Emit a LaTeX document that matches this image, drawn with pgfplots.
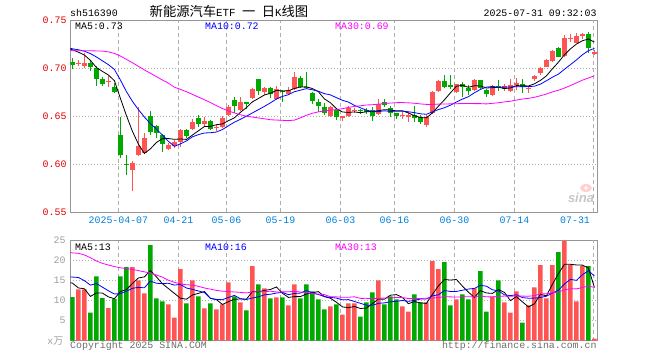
\documentclass[border=0pt]{standalone}
\usepackage{fontspec}
\setmainfont{Liberation Mono}
\newfontfamily\cjk{Noto Sans CJK SC}
\newfontfamily\sansf{Liberation Sans}
\usepackage{pgfplots}
\usepackage{pgfplotstable}
\pgfplotsset{compat=1.18}
\definecolor{cred}{RGB}{255,84,84}
\definecolor{cgreen}{RGB}{0,168,0}
\definecolor{tickred}{RGB}{225,0,0}
\definecolor{dateblue}{RGB}{0,128,220}
\definecolor{bordergray}{RGB}{150,150,150}
\definecolor{gridgray}{RGB}{175,175,175}
\definecolor{textgray}{RGB}{110,110,110}
\definecolor{volgray}{RGB}{160,160,160}
\definecolor{cmag}{RGB}{255,0,255}
\newcommand\mf{\fontsize{9.9}{11}\selectfont}

% red (up) candles: index, open, high, low, close, volume
\pgfplotstableread{
i O H L C V
1 0.7045 0.7083 0.7021 0.7050 12.75
2 0.7024 0.7153 0.6997 0.7050 12.75
6 0.6855 0.6917 0.6799 0.6860 8.1
10 0.5940 0.6035 0.5720 0.6010 18.25
11 0.6095 0.6590 0.6080 0.6190 15.0
12 0.6110 0.6320 0.6100 0.6270 11.75
16 0.6155 0.6215 0.6145 0.6195 9.0
17 0.6190 0.6245 0.6165 0.6230 5.75
18 0.6230 0.6360 0.6180 0.6350 17.75
20 0.6360 0.6470 0.6355 0.6435 15.0
22 0.6417 0.6493 0.6400 0.6448 8.0
24 0.6378 0.6420 0.6347 0.6382 7.75
25 0.6390 0.6503 0.6370 0.6475 9.0
26 0.6510 0.6610 0.6500 0.6590 14.5
28 0.6563 0.6695 0.6556 0.6643 9.5
30 0.6691 0.6790 0.6680 0.6780 18.5
32 0.6745 0.6806 0.6719 0.6788 13.0
34 0.6680 0.6810 0.6670 0.6780 10.75
36 0.6726 0.6799 0.6715 0.6770 8.75
37 0.6780 0.6955 0.6770 0.6910 14.0
43 0.6500 0.6600 0.6493 0.6597 8.5
45 0.6483 0.6500 0.6448 0.6487 6.5
46 0.6500 0.6606 0.6493 0.6580 9.25
47 0.6550 0.6580 0.6535 0.6565 9.25
51 0.6521 0.6674 0.6510 0.6622 15.0
55 0.6497 0.6545 0.6469 0.6501 8.5
56 0.6490 0.6545 0.6438 0.6510 7.25
59 0.6406 0.6510 0.6390 0.6486 9.5
60 0.6528 0.6760 0.6520 0.6753 19.75
61 0.6760 0.6875 0.6747 0.6865 17.75
64 0.6753 0.6833 0.6740 0.6833 10.25
67 0.6770 0.6890 0.6760 0.6880 13.0
70 0.6720 0.6823 0.6705 0.6813 11.0
72 0.6785 0.6830 0.6760 0.6810 9.5
73 0.6764 0.6885 0.6753 0.6823 7.0
74 0.6823 0.6896 0.6767 0.6847 12.25
76 0.6777 0.6802 0.6743 0.6780 8.75
77 0.6882 0.6927 0.6868 0.6917 13.25
78 0.6945 0.7014 0.6927 0.7003 18.75
79 0.7014 0.7090 0.7007 0.7083 10.5
80 0.7076 0.7188 0.7066 0.7177 18.75
82 0.7125 0.7344 0.7118 0.7309 24.8
83 0.7305 0.7354 0.7274 0.7310 18.75
84 0.7264 0.7361 0.7257 0.7333 9.75
85 0.7333 0.7365 0.7302 0.7351 18.5
87 0.7150 0.7188 0.7135 0.7153 0.5
}\upK

% green (down) candles
\pgfplotstableread{
i O H L C V
0 0.7066 0.7100 0.6990 0.7031 10.8
3 0.7056 0.7076 0.6972 0.7007 7.0
4 0.6997 0.7021 0.6813 0.6885 16.0
5 0.6885 0.6903 0.6813 0.6833 10.6
7 0.6799 0.6847 0.6736 0.6753 10.4
8 0.6300 0.6490 0.6060 0.6090 16.0
9 0.5995 0.6090 0.5885 0.5990 18.25
13 0.6500 0.6555 0.6300 0.6330 23.75
14 0.6395 0.6410 0.6270 0.6320 10.5
15 0.6300 0.6310 0.6130 0.6210 9.75
19 0.6350 0.6360 0.6275 0.6295 9.25
21 0.6475 0.6510 0.6390 0.6420 11.0
23 0.6448 0.6455 0.6350 0.6360 9.25
27 0.6667 0.6695 0.6530 0.6600 11.0
29 0.6643 0.6643 0.6573 0.6625 7.5
31 0.6885 0.6890 0.6720 0.6760 14.0
33 0.6790 0.6800 0.6690 0.6726 10.5
35 0.6757 0.6770 0.6650 0.6750 10.75
38 0.6900 0.6920 0.6790 0.6800 10.5
39 0.6805 0.6955 0.6780 0.6790 14.0
40 0.6736 0.6753 0.6622 0.6660 12.25
41 0.6650 0.6674 0.6545 0.6607 10.25
42 0.6594 0.6639 0.6510 0.6535 7.75
44 0.6563 0.6580 0.6458 0.6486 9.0
48 0.6556 0.6570 0.6525 0.6550 6.0
49 0.6560 0.6585 0.6520 0.6540 9.5
50 0.6563 0.6597 0.6448 0.6500 12.0
52 0.6643 0.6674 0.6597 0.6617 9.0
53 0.6580 0.6604 0.6493 0.6530 11.0
54 0.6528 0.6528 0.6466 0.6500 10.25
57 0.6510 0.6604 0.6434 0.6476 11.5
58 0.6486 0.6515 0.6420 0.6434 9.5
62 0.6865 0.6927 0.6790 0.6800 19.5
63 0.6823 0.6927 0.6780 0.6800 8.75
65 0.6833 0.6850 0.6700 0.6800 11.5
66 0.6788 0.6823 0.6719 0.6764 10.25
68 0.6880 0.6880 0.6780 0.6790 17.25
69 0.6770 0.6780 0.6700 0.6726 7.25
71 0.6816 0.6875 0.6764 0.6790 15.0
75 0.6833 0.6890 0.6743 0.6806 4.5
81 0.7205 0.7215 0.7110 0.7118 22.0
86 0.7354 0.7378 0.7153 0.7205 18.5
}\dnK

% moving averages: price MA5 MA10 MA30, volume MA5 MA10 MA30
\pgfplotstableread{
i m5 m10 m30 v5 v10 v30
-0.33 0.7198 0.7205 0.7185 14.4 15.8 21.9
0 0.7190 0.7200 0.7180 14.3 15.8 21.8
1 0.7165 0.7190 0.7180 13.1 15.7 21.7
2 0.7135 0.7175 0.7180 12.9 14.9 21.3
3 0.7080 0.7150 0.7179 11.0 13.8 20.6
4 0.7005 0.7115 0.7178 11.86 14.2 19.8
5 0.6965 0.7075 0.7176 11.82 13.3 19.2
6 0.6927 0.7035 0.7168 10.89 12.4 18.8
7 0.6868 0.6985 0.7152 10.42 11.6 18.4
8 0.6684 0.6875 0.7125 12.22 11.7 18.1
9 0.6505 0.6755 0.7090 12.67 12.27 17.9
10 0.6341 0.6653 0.7055 14.2 13.01 17.7
11 0.6207 0.6567 0.7018 15.58 13.24 17.4
12 0.6110 0.6489 0.6980 15.85 13.14 17.1
13 0.6158 0.6421 0.6945 17.4 14.81 16.8
14 0.6224 0.6365 0.6910 15.85 14.26 16.3
15 0.6264 0.6302 0.6875 14.15 14.18 15.8
16 0.6265 0.6236 0.6842 12.95 14.27 15.0
17 0.6257 0.6184 0.6800 11.75 13.8 14.5
18 0.6261 0.6210 0.6778 10.55 13.98 14.1
19 0.6256 0.6240 0.6753 10.3 13.08 13.9
20 0.6301 0.6283 0.6725 11.35 12.75 13.8
21 0.6346 0.6306 0.6697 11.75 12.35 13.5
22 0.6390 0.6323 0.6670 12.2 11.98 13.1
23 0.6392 0.6326 0.6640 10.5 10.53 12.8
24 0.6409 0.6333 0.6608 10.2 10.25 12.5
25 0.6417 0.6359 0.6578 9.0 10.18 12.3
26 0.6451 0.6398 0.6553 9.7 10.73 12.2
27 0.6481 0.6436 0.6532 10.3 11.25 12.1
28 0.6538 0.6465 0.6513 10.35 10.43 12.0
29 0.6587 0.6498 0.6498 10.3 10.25 11.86
30 0.6648 0.6532 0.6489 12.2 10.6 12.12
31 0.6682 0.6566 0.6480 12.1 10.9 12.16
32 0.6719 0.6600 0.6471 12.5 11.4 12.17
33 0.6736 0.6637 0.6461 12.7 11.53 12.29
34 0.6767 0.6677 0.6458 13.35 11.83 12.11
35 0.6761 0.6704 0.6455 11.8 12.0 12.12
36 0.6763 0.6722 0.6452 10.75 11.43 12.14
37 0.6787 0.6753 0.6457 10.95 11.73 12.26
38 0.6802 0.6769 0.6481 10.95 11.83 12.08
39 0.6804 0.6785 0.6508 11.6 12.48 11.93
40 0.6786 0.6773 0.6529 11.9 11.85 11.73
41 0.6753 0.6758 0.6543 12.2 11.48 11.58
42 0.6678 0.6733 0.6552 10.95 10.95 11.44
43 0.6638 0.6720 0.6561 10.55 10.75 10.93
44 0.6577 0.6691 0.6567 9.55 10.58 10.88
45 0.6542 0.6664 0.6576 8.4 10.15 10.78
46 0.6537 0.6645 0.6589 8.2 10.2 10.78
47 0.6543 0.6611 0.6600 8.5 9.73 10.9
48 0.6534 0.6586 0.6606 8.0 9.28 10.51
49 0.6544 0.6561 0.6615 8.1 8.83 10.52
50 0.6547 0.6545 0.6617 9.2 8.8 10.42
51 0.6555 0.6546 0.6624 10.35 9.28 10.55
52 0.6566 0.6554 0.6629 10.3 9.4 10.58
53 0.6562 0.6548 0.6635 11.3 9.65 10.64
54 0.6554 0.6549 0.6639 11.45 9.78 10.73
55 0.6554 0.6551 0.6640 10.75 9.98 10.71
56 0.6532 0.6544 0.6637 9.2 9.78 10.47
57 0.6503 0.6535 0.6633 9.7 10.0 10.48
58 0.6484 0.6523 0.6626 9.4 10.35 10.48
59 0.6481 0.6518 0.6621 9.25 10.35 10.55
60 0.6532 0.6543 0.6620 11.5 11.13 10.59
61 0.6603 0.6567 0.6624 13.6 11.4 10.72
62 0.6668 0.6586 0.6624 15.2 12.45 10.93
63 0.6741 0.6613 0.6627 15.05 12.23 10.88
64 0.6810 0.6646 0.6628 15.2 12.23 10.86
65 0.6820 0.6676 0.6630 13.55 12.53 10.88
66 0.6799 0.6701 0.6630 12.05 12.83 10.93
67 0.6815 0.6742 0.6629 10.75 12.98 10.9
68 0.6813 0.6777 0.6629 12.45 13.75 11.13
69 0.6792 0.6801 0.6626 11.85 13.53 10.9
70 0.6795 0.6807 0.6632 11.75 12.65 10.86
71 0.6800 0.6800 0.6638 12.7 12.38 11.02
72 0.6786 0.6801 0.6647 12.0 11.38 11.08
73 0.6792 0.6803 0.6654 9.95 11.2 11.03
74 0.6817 0.6804 0.6666 10.95 11.4 11.13
75 0.6815 0.6805 0.6677 9.65 10.7 11.07
76 0.6813 0.6807 0.6684 8.4 10.55 11.05
77 0.6835 0.6810 0.6695 9.15 10.58 11.18
78 0.6871 0.6832 0.6711 11.5 10.73 11.61
79 0.6918 0.6867 0.6729 11.15 11.05 11.64
80 0.6992 0.6904 0.6751 14.0 11.83 11.87
81 0.7060 0.6936 0.6768 16.65 12.53 12.1
82 0.7138 0.6986 0.6791 18.96 14.06 12.63
83 0.7199 0.7035 0.6817 18.96 15.23 12.89
84 0.7249 0.7084 0.6845 18.81 14.98 12.87
85 0.7284 0.7138 0.6873 18.76 16.38 13.2
86 0.7302 0.7181 0.6896 18.06 17.36 13.58
87 0.7270 0.7204 0.6919 13.2 16.08 13.21
}\maT

\pgfplotsset{
  kchart/.style={
    scale only axis,
    width=527.4pt,
    xmin=-0.35, xmax=87.55,
    axis line style={bordergray, line width=1pt},
    tick style={draw=none}, major tick length=0pt,
    ticklabel style={font=\mf, inner sep=0pt},
    xtick={7.67,17.67,25.67,34.67,44.67,53.67,63.67,73.67},
    extra x ticks={86.78},
    extra x tick style={grid=major},
    xmajorgrids, ymajorgrids,
    x grid style={gridgray, dash pattern=on 4pt off 3pt, line width=0.9pt},
    y grid style={gridgray, dash pattern=on 1pt off 2pt, line width=0.9pt},
  },
  wick/.style={draw=none, mark=none, error bars/.cd, y dir=plus, y explicit, error mark=none, error bar style={draw=#1, line width=1pt}},
  body/.style={draw=none, mark=none, error bars/.cd, y dir=plus, y explicit, error mark=none, error bar style={draw=#1, line width=4.5pt}},
}

\begin{document}
\begin{tikzpicture}
\path (0pt,0pt) rectangle (660pt,360pt);

% ---------- price panel ----------
\begin{axis}[kchart,
  anchor=south west, at={(70.3pt,148pt)}, height=192pt,
  ymin=0.55, ymax=0.75,
  ytick={0.55,0.60,0.65,0.70,0.75},
  yticklabels={0.55,0.60,0.65,0.70,0.75},
  yticklabel style={text=tickred, xshift=-3.6pt},
  xticklabels={2025-04-07,04-21,05-06,05-19,06-03,06-16,06-30,07-14},
  extra x tick labels={07-31},
  extra x tick style={xticklabel style={anchor=north east, xshift=-3pt}},
  xticklabel style={text=dateblue, yshift=-5pt},
]
\addplot[wick=cred] table[x=i, y=L, y error expr=\thisrow{H}-\thisrow{L}] {\upK};
\addplot[wick=cgreen] table[x=i, y=L, y error expr=\thisrow{H}-\thisrow{L}] {\dnK};
\addplot[body=cred] table[x=i, y=O, y error expr={max(\thisrow{C}-\thisrow{O},0.0012)}] {\upK};
\addplot[body=cgreen] table[x=i, y=C, y error expr={max(\thisrow{O}-\thisrow{C},0.0012)}] {\dnK};
\addplot[black, line width=0.8pt, mark=none] table[x=i, y=m5] {\maT};
\addplot[blue, line width=0.8pt, mark=none] table[x=i, y=m10] {\maT};
\addplot[cmag, line width=0.8pt, mark=none] table[x=i, y=m30] {\maT};
\end{axis}

% ---------- volume panel ----------
\begin{axis}[kchart,
  anchor=south west, at={(70.3pt,19.3pt)}, height=100.7pt,
  ymin=0, ymax=25,
  ytick={5,10,15,20,25},
  yticklabels={5,10,15,20,25},
  yticklabel style={text=volgray, xshift=-4.6pt},
  xticklabels={}, extra x tick labels={},
]
\addplot[ybar, bar width=4.5pt, bar shift=0pt, fill=cred, draw=none] table[x=i, y=V] {\upK};
\addplot[ybar, bar width=4.5pt, bar shift=0pt, fill=cgreen, draw=none] table[x=i, y=V] {\dnK};
\addplot[black, line width=0.8pt, mark=none] table[x=i, y=v5] {\maT};
\addplot[blue, line width=0.8pt, mark=none] table[x=i, y=v10] {\maT};
\addplot[cmag, line width=0.8pt, mark=none] table[x=i, y=v30] {\maT};
\end{axis}

% ---------- texts ----------
\node[anchor=base west, inner sep=0, font=\mf] at (70pt,343.3pt) {sh516390};
\node[anchor=base east, inner sep=0, font=\mf] at (596.7pt,343.3pt) {2025-07-31 09:32:03};
\node[anchor=base, inner sep=0] at (229pt,343.6pt) {{\cjk\fontsize{13.3}{14}\selectfont 新能源汽车}{\fontsize{10.8}{12}\selectfont ETF\ }{\cjk\fontsize{13.3}{14}\selectfont 一}{\fontsize{10.8}{12}\selectfont\ }{\cjk\fontsize{13.3}{14}\selectfont 日}{\fontsize{10.8}{12}\selectfont K}{\cjk\fontsize{13.3}{14}\selectfont 线图}};

\node[anchor=base west, inner sep=0, font=\mf] at (75pt,330.7pt) {MA5:0.73};
\node[anchor=base west, inner sep=0, font=\mf, text=blue] at (205pt,330.7pt) {MA10:0.72};
\node[anchor=base west, inner sep=0, font=\mf, text=cmag] at (335pt,330.7pt) {MA30:0.69};

\node[anchor=base west, inner sep=0, font=\mf] at (75pt,110pt) {MA5:13};
\node[anchor=base west, inner sep=0, font=\mf, text=blue] at (205pt,110pt) {MA10:16};
\node[anchor=base west, inner sep=0, font=\mf, text=cmag] at (335pt,110pt) {MA30:13};

\node[anchor=base east, inner sep=0, text=volgray] at (63.5pt,16pt) {{\fontsize{9.9}{11}\selectfont x}{\cjk\fontsize{10}{11}\selectfont 万}};
\node[anchor=base west, inner sep=0, font=\mf, text=textgray] at (70pt,11.8pt) {Copyright 2025 SINA.COM};
\node[anchor=base east, inner sep=0, font=\mf, text=textgray] at (596.7pt,12pt) {http://finance.sina.com.cn};

% sina watermark
\fill[red!18] (586pt,172pt) ellipse (6pt and 4pt);
\fill[white] (586pt,172pt) circle (1.8pt);
\node[anchor=base, inner sep=0, text=black!22, font=\sansf\bfseries\itshape\fontsize{13}{14}\selectfont] at (581pt,158pt) {sina};
\end{tikzpicture}
\end{document}
